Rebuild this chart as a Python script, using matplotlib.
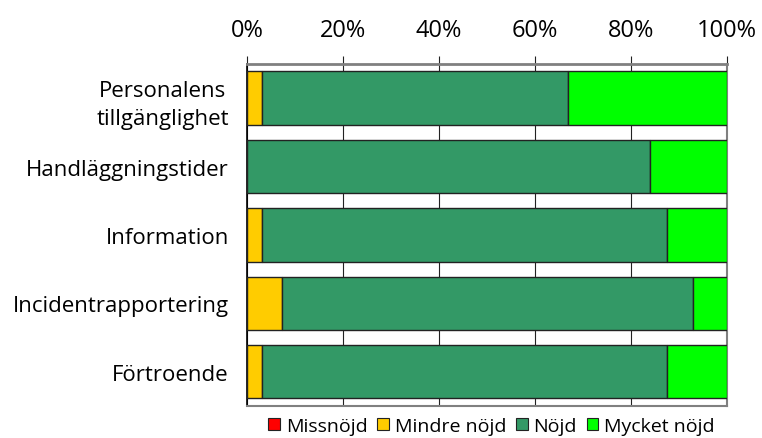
import matplotlib
matplotlib.use("Agg")
import matplotlib.pyplot as plt
from matplotlib.patches import Patch
import numpy as np

plt.rcParams['font.family'] = ['Open Sans', 'DejaVu Sans']

categories = ["Personalens\ntillgänglighet", "Handläggningstider", "Information",
              "Incidentrapportering", "Förtroende"]
series_names = ["Missnöjd", "Mindre nöjd", "Nöjd", "Mycket nöjd"]
missnojd = [0.0, 0.0, 0.0, 0.0, 0.0]
mindre_nojd = [3.1, 0.0, 3.2, 7.3, 3.2]
nojd = [63.7, 84.0, 84.4, 85.7, 84.4]
mycket_nojd = [33.2, 16.0, 12.4, 7.0, 12.4]
tick_labels = ["0%", "20%", "40%", "60%", "80%", "100%"]

colors = ["#FF0000", "#FFCC00", "#339966", "#00FF00"]

fig = plt.figure(figsize=(7.62, 4.39), dpi=100)
ax = fig.add_axes([0.324, 0.073, 0.630, 0.779])

y = np.arange(len(categories))
left = np.zeros(len(categories))
for vals, col in zip([missnojd, mindre_nojd, nojd, mycket_nojd], colors):
    vals = np.array(vals)
    ax.barh(y, vals, left=left, height=0.78, color=col, edgecolor="#222222",
            linewidth=1.0, zorder=3)
    left += vals

ax.set_xlim(0, 100)
ax.set_ylim(len(categories) - 0.5, -0.5)
ax.set_xticks([0, 20, 40, 60, 80, 100])
ax.set_xticklabels(tick_labels, fontsize=17)
ax.xaxis.tick_top()
ax.tick_params(axis="x", direction="out", length=6, width=0.8, color="#222222",
               pad=10)
ax.set_yticks(y)
ax.set_yticklabels(categories, fontsize=16, multialignment="center", linespacing=1.45)
ax.tick_params(axis="y", length=0, pad=13)

ax.grid(axis="x", color="#222222", linewidth=0.8, zorder=0)
ax.set_axisbelow(True)

for side in ["top", "bottom", "right"]:
    ax.spines[side].set_color("#808080")
ax.spines["top"].set_linewidth(2.0)
ax.spines["bottom"].set_linewidth(1.5)
ax.spines["right"].set_linewidth(1.5)
ax.spines["left"].set_color("#000000")
ax.spines["left"].set_linewidth(1.2)

handles = [Patch(facecolor=c, edgecolor="#222222", linewidth=0.8) for c in colors]
fig.legend(handles, series_names, loc="lower center", bbox_to_anchor=(0.645, -0.032),
           ncol=4, frameon=False, fontsize=14, handlelength=0.6, handleheight=0.6,
           handletextpad=0.3, columnspacing=0.5)

fig.savefig("out.png", dpi=100)
